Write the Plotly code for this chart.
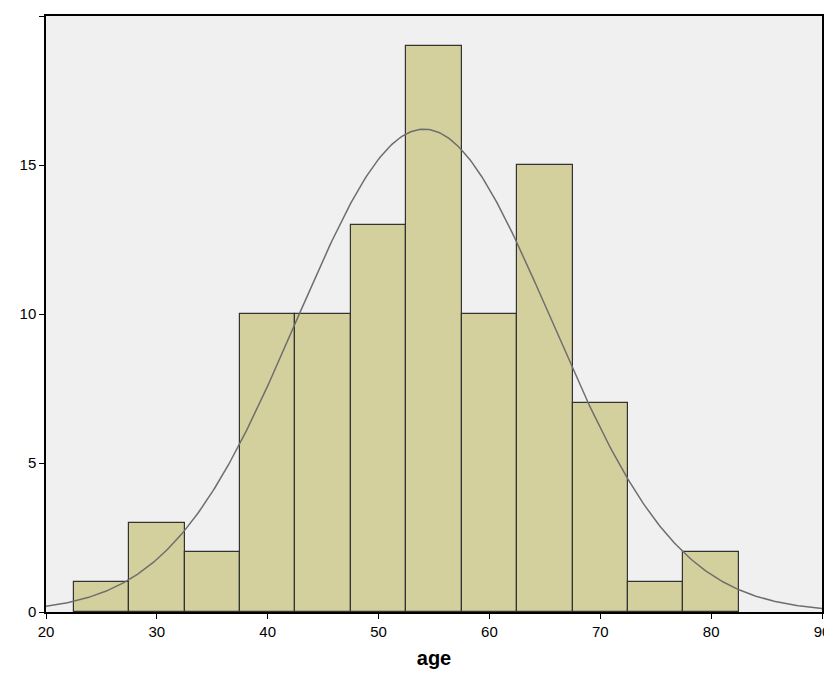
import numpy as np
import plotly.graph_objects as go

# histogram of age, bins of width 5
bin_centers = [25, 30, 35, 40, 45, 50, 55, 60, 65, 70, 75, 80]
counts = [1, 3, 2, 10, 10, 13, 19, 10, 15, 7, 1, 2]
bin_width = 5

# fitted normal curve parameters
mean_age = 54.1
sd_age = 11.45
n_total = sum(counts)

x_curve = np.linspace(20, 90, 400)
y_curve = n_total * bin_width / (sd_age * np.sqrt(2 * np.pi)) * np.exp(-0.5 * ((x_curve - mean_age) / sd_age) ** 2)

fig = go.Figure()
fig.add_trace(go.Bar(
    x=bin_centers, y=counts, width=bin_width,
    marker=dict(color="#D4D09E", line=dict(color="#333333", width=1.2)),
    showlegend=False,
))
fig.add_trace(go.Scatter(
    x=x_curve, y=y_curve, mode="lines",
    line=dict(color="#6e6e6e", width=1.5), showlegend=False,
))

fig.update_layout(
    width=832, height=680,
    margin=dict(l=38, r=18, t=8, b=76, autoexpand=False),
    paper_bgcolor="white", plot_bgcolor="#F0F0F0",
    font=dict(family="Arial, Liberation Sans, sans-serif", size=15, color="black"),
    bargap=0,
)
fig.update_xaxes(
    range=[20, 90], dtick=10, ticks="outside", ticklen=5, tickcolor="black", automargin=False,
    showgrid=False, zeroline=False, showline=True, linecolor="black", linewidth=1.5, mirror=True,
    title=dict(text="<b>age</b>", font=dict(size=20), standoff=12),
)
fig.update_yaxes(
    range=[0, 20], dtick=5, ticks="outside", ticklen=5, tickcolor="black", automargin=False,
    showgrid=False, zeroline=False, showline=True, linecolor="black", linewidth=1.5, mirror=True,
)

fig.write_html("out.html")
